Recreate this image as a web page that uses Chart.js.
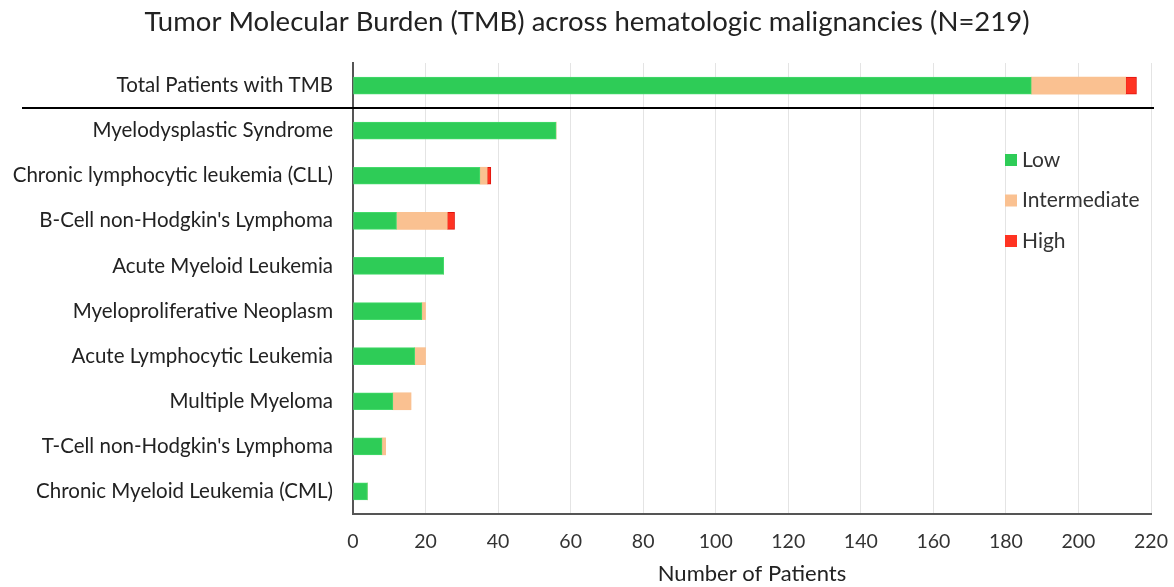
<!DOCTYPE html>
<html>
<head>
<meta charset="utf-8">
<script src="https://cdn.jsdelivr.net/npm/chart.js@4"></script>
<style>
  html, body { margin: 0; padding: 0; background: #fff; }
  #wrap { width: 1174px; height: 587px; }
</style>
</head>
<body>
<div id="wrap"><canvas id="tmbChart" width="1174" height="587"></canvas></div>
<script>
// categories (top to bottom)
const categories = [
  'Total Patients with TMB',
  'Myelodysplastic Syndrome',
  'Chronic lymphocytic leukemia (CLL)',
  "B-Cell non-Hodgkin's Lymphoma",
  'Acute Myeloid Leukemia',
  'Myeloproliferative Neoplasm',
  'Acute Lymphocytic Leukemia',
  'Multiple Myeloma',
  "T-Cell non-Hodgkin's Lymphoma",
  'Chronic Myeloid Leukemia (CML)'
];

// number of patients per TMB level
const lowValues          = [187, 56, 35, 12, 25, 19, 17, 11, 8, 4];
const intermediateValues = [26, 0, 2, 14, 0, 1, 3, 5, 1, 0];
const highValues         = [3, 0, 1, 2, 0, 0, 0, 0, 0, 0];

const xTicks = [0, 20, 40, 60, 80, 100, 120, 140, 160, 180, 200, 220];

const FONT = 'Lato, "Liberation Sans", sans-serif';

// black line under the total row
const separatorLine = {
  id: 'separatorLine',
  afterDatasetsDraw(chart) {
    const y = chart.scales.y;
    const area = chart.chartArea;
    const yy = (y.getPixelForValue(0) + y.getPixelForValue(1)) / 2;
    const c = chart.ctx;
    c.save();
    c.strokeStyle = '#000';
    c.lineWidth = 2;
    c.beginPath();
    c.moveTo(22, yy);
    c.lineTo(area.right + 3, yy);
    c.stroke();
    c.restore();
  }
};

// legend drawn inside the plot, to the right
const insideLegend = {
  id: 'insideLegend',
  afterDraw(chart) {
    const c = chart.ctx;
    c.save();
    c.font = '21px ' + FONT;
    c.textBaseline = 'middle';
    chart.data.datasets.forEach((ds, i) => {
      const yc = 160 + i * 40.5;
      c.fillStyle = ds.backgroundColor;
      c.fillRect(1005, yc - 6, 12, 12);
      c.fillStyle = '#333';
      c.fillText(ds.label, 1022, yc);
    });
    c.restore();
  }
};

const ctx = document.getElementById('tmbChart').getContext('2d');

const data = {
  labels: categories,
  datasets: [
    { label: 'Low', data: lowValues, backgroundColor: '#2ECC57', borderColor: '#45DA6B', borderWidth: 1 },
    { label: 'Intermediate', data: intermediateValues, backgroundColor: '#FAC191', borderColor: '#FAC191', borderWidth: 0 },
    { label: 'High', data: highValues, backgroundColor: '#FF3322', borderColor: '#E0140C', borderWidth: 1 }
  ]
};

const config = {
  type: 'bar',
  data: data,
  options: {
    indexAxis: 'y',
    responsive: false,
    animation: false,
    layout: { padding: { left: 0, right: 0, top: 0, bottom: 0 } },
    datasets: { bar: { barThickness: 17, borderSkipped: false } },
    plugins: {
      legend: { display: false },
      tooltip: { enabled: false },
      title: {
        display: true,
        text: 'Tumor Molecular Burden (TMB) across hematologic malignancies (N=219)',
        color: '#222',
        font: { family: FONT, size: 27.5, weight: 'normal' },
        padding: { top: 6, bottom: 24 }
      }
    },
    scales: {
      x: {
        stacked: true,
        min: 0,
        max: 220,
        afterBuildTicks(scale) { scale.ticks = xTicks.map(v => ({ value: v })); },
        afterFit(scale) {
          scale.height = 73;
          scale.paddingLeft = 0;
          scale.paddingRight = 23;
        },
        grid: { color: '#e4e4e4', lineWidth: 1, drawTicks: false },
        border: { display: true, color: '#555', width: 2 },
        ticks: { color: '#333', padding: 16, font: { family: FONT, size: 19.5 } },
        title: {
          display: true,
          text: 'Number of Patients',
          color: '#222',
          font: { family: FONT, size: 22 },
          padding: { top: 6, bottom: 0 }
        }
      },
      y: {
        stacked: true,
        afterFit(scale) { scale.width = 353; },
        grid: { display: false, drawTicks: false },
        border: { display: true, color: '#555', width: 2 },
        ticks: { color: '#222', padding: 20, font: { family: FONT, size: 20.5 } }
      }
    }
  },
  plugins: [separatorLine, insideLegend]
};

const tmbChart = new Chart(ctx, config);
</script>
</body>
</html>
